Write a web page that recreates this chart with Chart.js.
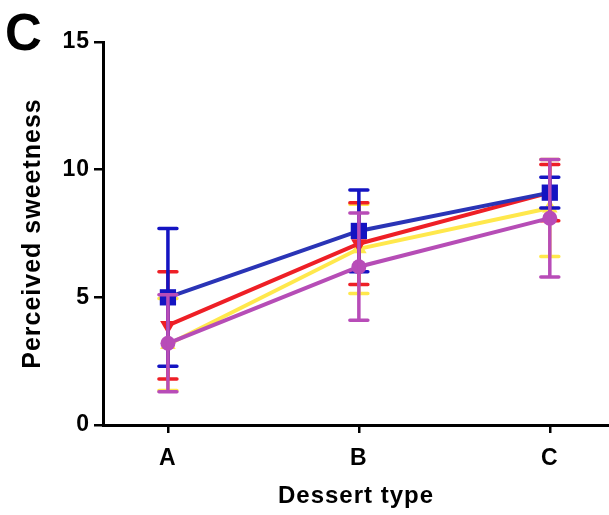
<!DOCTYPE html>
<html>
<head>
<meta charset="utf-8">
<script src="https://cdn.jsdelivr.net/npm/chart.js@4/dist/chart.umd.min.js"></script>
<style>
  html, body { margin: 0; padding: 0; background: #fff; }
  #wrap { position: relative; width: 609px; height: 515px; }
</style>
</head>
<body>
<div id="wrap"><canvas id="c" width="609" height="515"></canvas></div>
<script>
// ---- data ----
const categories = ['A', 'B', 'C'];
const yTicks = [0, 5, 10, 15];

const blueMean = [5.0, 7.6, 9.1];
const blueErr  = [2.7, 1.6, 0.6];
const redMean  = [3.9, 7.1, 9.1];
const redErr   = [2.1, 1.6, 1.1];
const yellowMean = [3.15, 6.9, 8.5];
const yellowErr  = [1.8, 1.75, 1.9];
const purpleMean = [3.2, 6.2, 8.1];
const purpleErr  = [1.9, 2.1, 2.3];

const toXY = arr => arr.map((v, i) => ({ x: i, y: v }));

const FONT = "'Liberation Sans', Arial, sans-serif";

const spacingPlugin = {
  id: 'spacing',
  beforeInit(chart) { if ('letterSpacing' in chart.ctx) chart.ctx.letterSpacing = '1px'; },
  beforeDraw(chart) { if ('letterSpacing' in chart.ctx) chart.ctx.letterSpacing = '1px'; }
};

const errorBarPlugin = {
  id: 'errorBars',
  afterDatasetDraw(chart, args) {
    const ds = chart.data.datasets[args.index];
    if (!ds.errors) return;
    const meta = args.meta;
    const ys = chart.scales.y;
    const ctx = chart.ctx;
    ctx.save();
    ctx.strokeStyle = ds.errorColor;
    ctx.lineWidth = 3.5;
    ctx.lineCap = 'round';
    meta.data.forEach((pt, i) => {
      const v = ds.data[i].y, e = ds.errors[i];
      const yTop = ys.getPixelForValue(v + e);
      const yBot = ys.getPixelForValue(v - e);
      const x = pt.x;
      ctx.beginPath();
      ctx.moveTo(x, yTop); ctx.lineTo(x, yBot);
      ctx.moveTo(x - 9, yTop); ctx.lineTo(x + 9, yTop);
      ctx.moveTo(x - 9, yBot); ctx.lineTo(x + 9, yBot);
      ctx.stroke();
    });
    ctx.restore();
  }
};

const panelLabel = {
  id: 'panelLabel',
  afterDraw(chart) {
    const ctx = chart.ctx;
    ctx.save();
    ctx.fillStyle = '#000';
    ctx.font = "bold 51px " + FONT;
    ctx.textBaseline = 'alphabetic';
    ctx.textAlign = 'left';
    ctx.fillText('C', 5, 50);
    ctx.restore();
  }
};

function series(label, mean, err, lineColor, errColor, style, radius, rotation) {
  return {
    label, data: toXY(mean), errors: err,
    borderColor: lineColor, backgroundColor: errColor, errorColor: errColor,
    borderWidth: 4, pointStyle: style, pointRadius: radius, pointRotation: rotation || 0,
    pointBorderWidth: 0, pointHoverRadius: radius, fill: false, tension: 0
  };
}

new Chart(document.getElementById('c'), {
  type: 'line',
  data: {
    datasets: [
      series('Purple', purpleMean, purpleErr, '#b64db6', '#b84cb8', 'circle', 7.5),
      series('Blue', blueMean, blueErr, '#2a34b6', '#1414c2', 'rect', 11.5),
      series('Red', redMean, redErr, '#ee1f26', '#ee1f26', 'triangle', 9, 180),
      series('Yellow', yellowMean, yellowErr, '#ffe84c', '#ffe84c', 'triangle', 9)
    ]
  },
  options: {
    responsive: false,
    animation: false,
    layout: { autoPadding: false, padding: { left: 0, right: 0, top: 42, bottom: 0 } },
    plugins: { legend: { display: false }, tooltip: { enabled: false } },
    scales: {
      x: {
        type: 'linear', min: -0.34, max: 2.31,
        afterBuildTicks(scale) { scale.ticks = categories.map((c, i) => ({ value: i })); },
        afterFit(scale) { scale.height = 90; },
        ticks: {
          callback: v => categories[v] ?? '',
          color: '#000', font: { family: FONT, size: 23, weight: 'bold' }, padding: 12
        },
        grid: { display: true, drawOnChartArea: false, drawTicks: true, tickLength: 8, color: '#000', lineWidth: 2.5 },
        border: { display: true, color: '#000', width: 3 },
        title: { display: true, text: 'Dessert type', color: '#000',
                 font: { family: FONT, size: 24, weight: 'bold' }, padding: { top: 4, bottom: 4 } }
      },
      y: {
        min: 0, max: 15,
        afterBuildTicks(scale) { scale.ticks = yTicks.map(v => ({ value: v })); },
        afterFit(scale) { scale.width = 103; },
        ticks: { color: '#000', font: { family: FONT, size: 23, weight: 'bold' }, padding: 4 },
        grid: { display: true, drawOnChartArea: false, drawTicks: true, tickLength: 9, color: '#000', lineWidth: 2.5 },
        border: { display: true, color: '#000', width: 3 },
        title: { display: true, text: 'Perceived sweetness', color: '#000',
                 font: { family: FONT, size: 25, weight: 'bold' }, padding: { top: 18, bottom: 4 } }
      }
    }
  },
  plugins: [spacingPlugin, errorBarPlugin, panelLabel]
});
</script>
</body>
</html>
